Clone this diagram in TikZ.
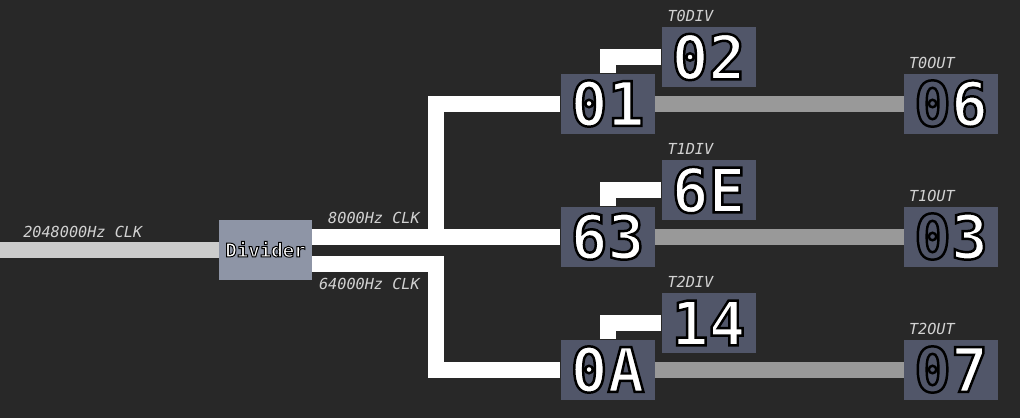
\documentclass[tikz,border=0pt]{standalone}
\usepackage{fontspec}
\usepackage{xcolor}
\usepackage{tikz}
\usetikzlibrary{backgrounds}
\newfontfamily\monof{DejaVu Sans Mono}
\newfontfamily\digf[FakeBold=4]{DejaVu Sans Mono Bold}
\newfontfamily\divf[FakeBold=5.2]{DejaVu Sans Mono Bold}
\definecolor{bgc}{HTML}{282828}
\definecolor{boxc}{HTML}{515669}
\definecolor{divc}{HTML}{8E95A6}
\definecolor{lblc}{HTML}{D2D2D2}
\definecolor{inw}{HTML}{CCCCCC}
\definecolor{outw}{HTML}{999999}
\newcommand\olt[2][white]{{\color{#1}\special{pdf:literal direct 0 G}#2}}

\begin{document}
\begin{tikzpicture}[x=0.75pt,y=-0.75pt,
 reg/.style={fill=boxc,inner sep=0pt,minimum width=70.5pt,minimum height=45pt,
  font=\digf\fontsize{46}{46}\selectfont,text height=33.5pt,text depth=0pt},
 divbox/.style={fill=divc,inner sep=0pt,minimum width=70pt,minimum height=45pt,
  font=\divf\fontsize{14.3}{15}\selectfont,text height=10.4pt,text depth=0pt},
 lbl/.style={inner sep=0pt,anchor=base west,text=lblc,font=\monof\itshape\fontsize{11.4}{12}\selectfont},
 wire/.style={draw=white,line width=12pt},
 inwire/.style={draw=inw,line width=12.5pt},
 outwire/.style={draw=outw,line width=12pt}]
\useasboundingbox (0,0) rectangle (1020,418);
\coordinate (in) at (0,250);
\coordinate (jn) at (436,250);
\node[divbox] (div) at (265.5,250) {\olt{Divider}};
\node[reg] (t0) at (607.5,103.5) {\olt{01}};
\node[reg] (t0div) at (708.5,57) {\olt{02}};
\node[reg] (t0out) at (951,103.5) {\olt[boxc]{0}\olt{6}};
\node[reg] (t1) at (607.5,236.5) {\olt{63}};
\node[reg] (t1div) at (708.5,190) {\olt{6E}};
\node[reg] (t1out) at (951,236.5) {\olt[boxc]{0}\olt{3}};
\node[reg] (t2) at (607.5,369.5) {\olt{0A}};
\node[reg] (t2div) at (708.5,323) {\olt{14}};
\node[reg] (t2out) at (951,369.5) {\olt[boxc]{0}\olt{7}};
\node[lbl] (t0divl) at ([shift={(6,-5)}]t0div.north west) {T0DIV};
\node[lbl] (t1divl) at ([shift={(6,-5)}]t1div.north west) {T1DIV};
\node[lbl] (t2divl) at ([shift={(6,-5)}]t2div.north west) {T2DIV};
\node[lbl] (t0outl) at ([shift={(5,-5)}]t0out.north west) {T0OUT};
\node[lbl] (t1outl) at ([shift={(5,-5)}]t1out.north west) {T1OUT};
\node[lbl] (t2outl) at ([shift={(5,-5)}]t2out.north west) {T2OUT};
\node[lbl] (inl) at ([shift={(23,-13)}]in) {2048000Hz CLK};
\node[lbl,anchor=base east] (hil) at ([shift={(-16,-27)}]jn) {8000Hz CLK};
\node[lbl,anchor=base east] (lol) at ([shift={(-16,39)}]jn) {64000Hz CLK};
\begin{scope}[on background layer]
\fill[bgc] (0,0) rectangle (1020,418);
\draw[inwire] (in) -- (div.west);
\draw[wire] (div.east |- t1.west) -- (t1.west);
\draw[wire] (jn |- t1.west) |- (t0.west);
\draw[wire] ([yshift=-10.5pt]div.east) -| (jn |- t2.west) -- (t2.west);
\draw[wire] (t0.north) |- (t0div.west);
\draw[wire] (t1.north) |- (t1div.west);
\draw[wire] (t2.north) |- (t2div.west);
\draw[outwire] (t0) -- (t0out);
\draw[outwire] (t1) -- (t1out);
\draw[outwire] (t2) -- (t2out);
\end{scope}
\end{tikzpicture}
\end{document}
